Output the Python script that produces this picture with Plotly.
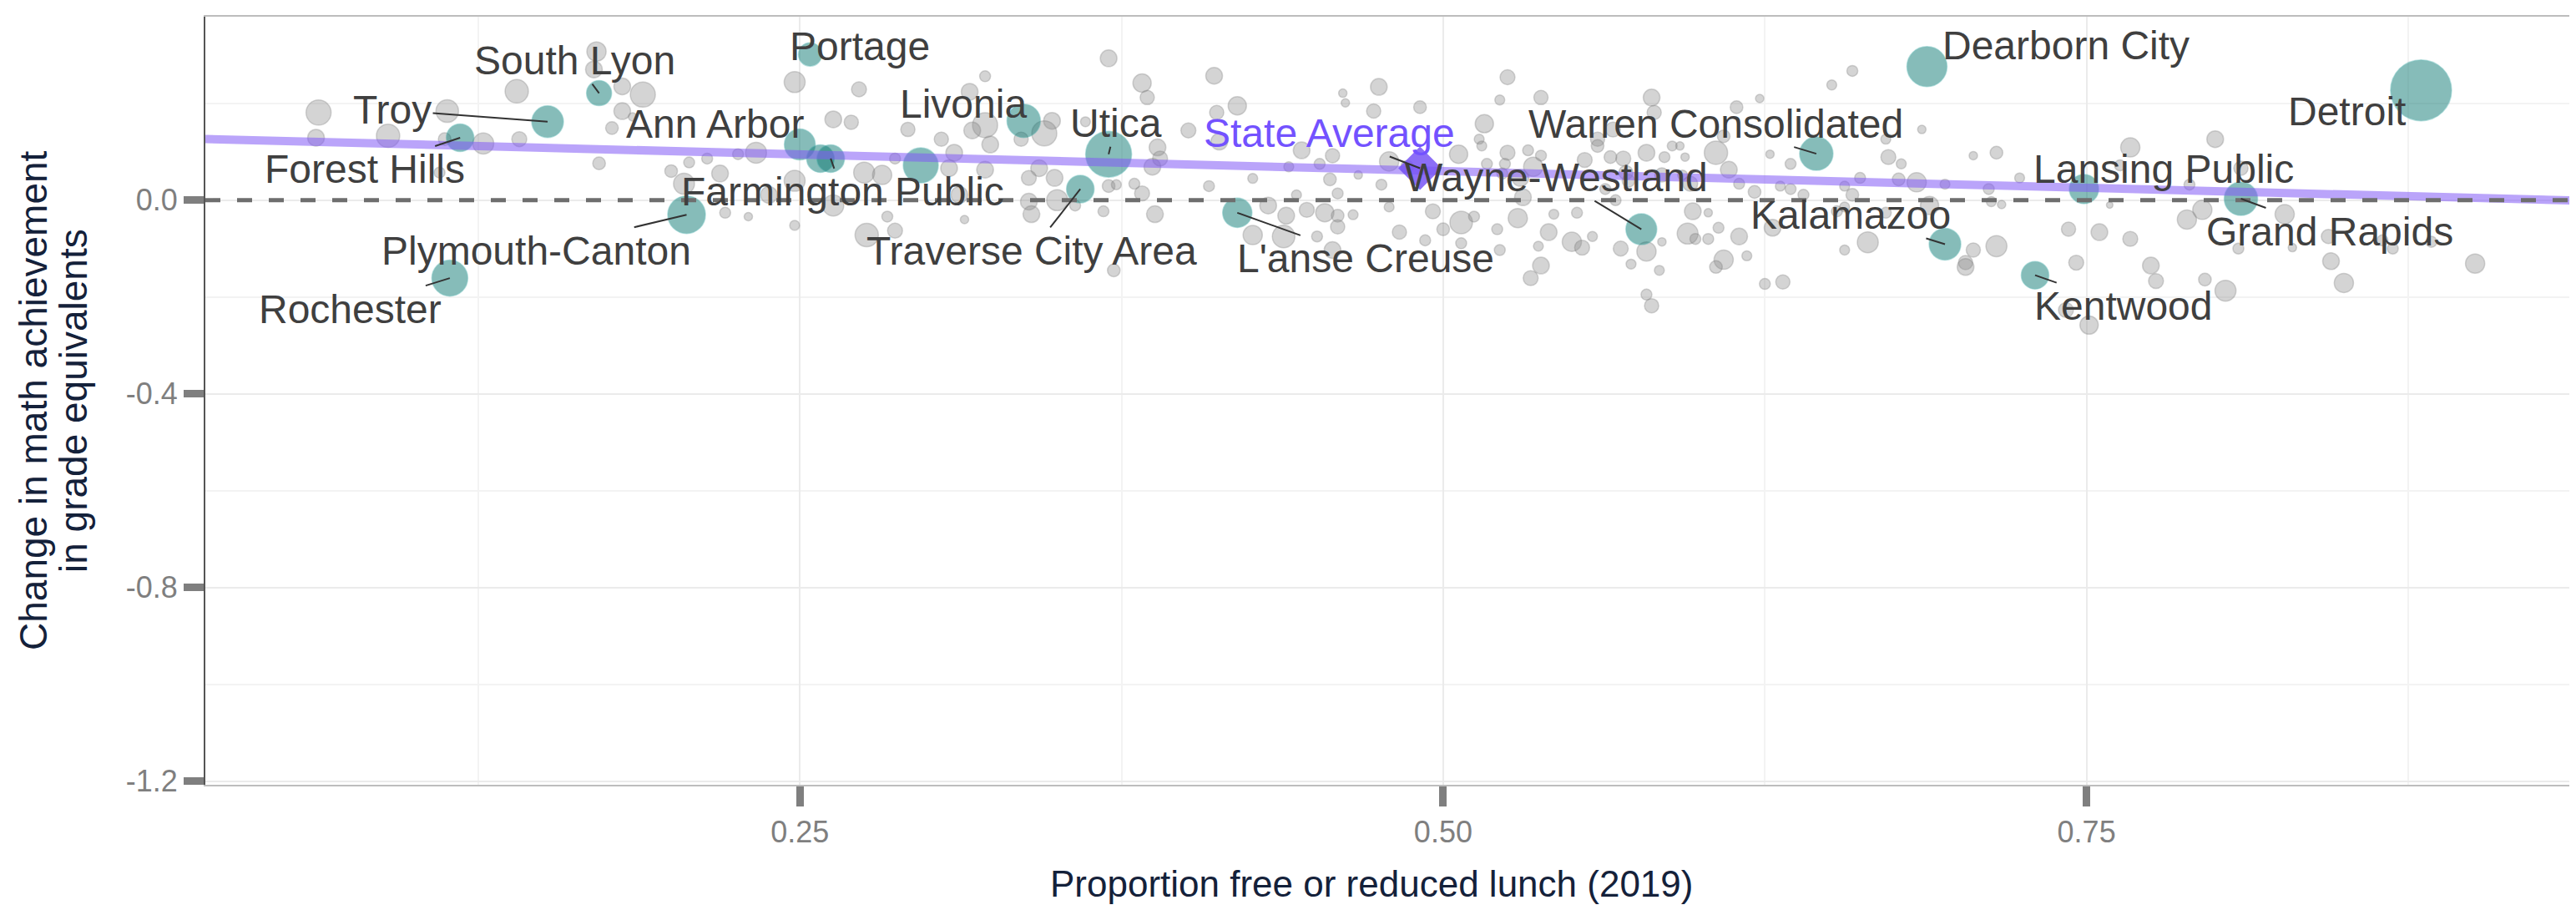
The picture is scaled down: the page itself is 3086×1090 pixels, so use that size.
import numpy as np
import plotly.graph_objects as go

# ---------------- data ----------------
# all other districts (grey): proportion FRL 2019, change in math GE, enrollment (thousands)
gray_frl = [
    0.063, 0.062, 0.090, 0.113, 0.112, 0.127, 0.141, 0.140, 0.110, 0.172, 0.171, 0.170,
    0.181, 0.189, 0.181, 0.185, 0.177, 0.248, 0.273, 0.263, 0.270, 0.233, 0.226, 0.214,
    0.207, 0.200, 0.205, 0.219, 0.221, 0.230, 0.238, 0.248, 0.248, 0.263, 0.275, 0.282,
    0.284, 0.276, 0.287, 0.292, 0.305, 0.310, 0.316, 0.322, 0.322, 0.317, 0.324, 0.314,
    0.312, 0.322, 0.308, 0.287,
    0.370, 0.383, 0.385, 0.361, 0.348, 0.345, 0.336, 0.343, 0.339, 0.349, 0.350, 0.339,
    0.340, 0.357, 0.368, 0.370, 0.373, 0.380, 0.383, 0.387, 0.389, 0.390, 0.388, 0.372,
    0.401, 0.411, 0.420, 0.412, 0.413, 0.409, 0.426, 0.426, 0.438, 0.432, 0.439, 0.443,
    0.447, 0.440, 0.445, 0.457, 0.452, 0.456, 0.459, 0.454, 0.459, 0.459, 0.451, 0.465,
    0.461, 0.462, 0.473, 0.475, 0.467, 0.476, 0.479, 0.479, 0.483, 0.457,
    0.525, 0.522, 0.491, 0.516, 0.514, 0.515, 0.506, 0.517, 0.525, 0.524, 0.533, 0.538,
    0.535, 0.530, 0.538, 0.523, 0.493, 0.496, 0.500, 0.507, 0.507, 0.512, 0.521, 0.522,
    0.529, 0.531, 0.538, 0.534, 0.541, 0.543, 0.537, 0.550, 0.554, 0.552, 0.558, 0.555,
    0.560, 0.560, 0.566, 0.565, 0.570, 0.571, 0.572, 0.563, 0.567, 0.569, 0.573, 0.579,
    0.584, 0.585, 0.579, 0.581, 0.581, 0.582, 0.579, 0.585, 0.586, 0.589, 0.594, 0.592,
    0.593, 0.596, 0.597, 0.595, 0.598, 0.603, 0.603, 0.606, 0.611, 0.609, 0.614, 0.623,
    0.627, 0.615, 0.621, 0.607, 0.615, 0.618, 0.609, 0.606, 0.625, 0.632, 0.631, 0.628,
    0.635, 0.635, 0.486,
    0.659, 0.651, 0.686, 0.672, 0.673, 0.678, 0.662, 0.656, 0.659, 0.677, 0.684, 0.695,
    0.640, 0.653, 0.672, 0.689, 0.665, 0.656, 0.706, 0.703, 0.703, 0.715, 0.706, 0.715,
    0.712, 0.713, 0.717, 0.724, 0.743, 0.755, 0.746, 0.767, 0.763, 0.759, 0.767, 0.775,
    0.777, 0.742, 0.751, 0.789, 0.790, 0.656,
    0.800, 0.810, 0.795, 0.827, 0.809, 0.830, 0.844, 0.845, 0.850, 0.865, 0.869, 0.884,
    0.901, 0.796, 0.804,
]
gray_change = [
    0.181, 0.129, 0.133, 0.184, 0.126, 0.117, 0.126, 0.225, 0.057, 0.076, 0.307, 0.270,
    0.235, 0.218, 0.184, 0.172, 0.149, 0.244, 0.229, 0.167, 0.161, 0.098, 0.095, 0.086,
    0.078, 0.060, 0.034, 0.055, -0.026, -0.034, 0.011, 0.040, -0.052, -0.011, 0.057, 0.052,
    -0.034, -0.072, -0.063, 0.146, 0.126, 0.098, 0.224, 0.256, 0.155, 0.144, 0.115, -0.040,
    0.011, 0.063, 0.066, 0.086,
    0.293, 0.242, 0.212, 0.162, 0.164, 0.138, 0.126, 0.066, 0.046, 0.046, 0.000, -0.003,
    -0.029, -0.011, -0.023, 0.029, 0.032, 0.034, 0.014, 0.069, 0.109, 0.086, -0.029, -0.145,
    0.144, 0.257, 0.195, 0.181, 0.121, 0.029, 0.045, -0.072, -0.075, -0.011, -0.032, 0.011,
    -0.020, 0.069, 0.103, 0.092, 0.075, 0.043, 0.014, -0.026, -0.032, -0.055, -0.075, -0.030,
    0.221, 0.201, 0.184, 0.234, 0.052, 0.032, -0.014, 0.080, -0.066, -0.103,
    0.254, 0.207, 0.192, 0.158, 0.126, 0.112, 0.095, 0.075, 0.098, 0.075, 0.103, 0.092,
    0.069, 0.046, 0.212, 0.055, -0.083, -0.023, -0.060, -0.046, -0.089, -0.034, -0.060, -0.103,
    -0.037, 0.006, -0.135, -0.161, -0.066, -0.029, -0.095, -0.086, -0.098, -0.026, -0.075, 0.083,
    0.126, 0.112, 0.146, 0.089, 0.086, 0.057, 0.040, 0.023, 0.000, -0.100, -0.132, -0.106,
    -0.145, -0.086, -0.195, -0.218, 0.212, 0.181, 0.098, 0.052, 0.089, 0.112, 0.089, 0.112,
    0.052, 0.034, -0.023, -0.069, -0.080, -0.080, -0.026, 0.098, 0.063, 0.132, 0.192, 0.210,
    0.095, 0.034, 0.017, -0.057, -0.075, -0.115, -0.123, -0.138, -0.173, -0.169, 0.029, -0.057,
    0.075, 0.023, 0.069,
    0.267, 0.238, 0.146, 0.126, 0.089, 0.075, 0.046, 0.029, 0.011, 0.043, 0.037, 0.033,
    0.011, -0.023, -0.026, -0.011, -0.087, -0.103, -0.103, -0.129, -0.138, -0.095, 0.092, 0.098,
    0.023, -0.003, -0.009, 0.046, -0.060, -0.066, -0.129, 0.109, 0.072, -0.010, -0.080, -0.135,
    -0.167, -0.227, -0.258, -0.040, 0.032, -0.014,
    0.126, 0.066, -0.020, -0.029, -0.100, -0.098, -0.075, -0.126, -0.171, -0.083, -0.100, -0.086,
    -0.131, -0.164, -0.187,
]
gray_enroll = [
    9.0, 4.0, 7.8, 7.3, 2.3, 6.3, 3.2, 7.8, 1.7, 2.3, 5.3, 4.0,
    4.0, 9.0, 4.0, 1.0, 2.3, 6.3, 3.2, 4.0, 2.9, 6.3, 1.7, 1.7,
    1.7, 2.3, 6.3, 4.0, 1.7, 1.0, 4.0, 6.3, 1.4, 6.3, 6.3, 5.3,
    1.7, 7.8, 3.2, 2.9, 2.9, 4.0, 4.0, 1.7, 9.0, 4.0, 4.0, 1.0,
    4.0, 4.0, 4.0, 1.7,
    4.0, 4.8, 2.9, 1.4, 4.0, 9.0, 2.9, 4.0, 3.2, 4.0, 6.3, 4.0,
    4.0, 1.7, 1.7, 2.3, 1.4, 1.7, 3.2, 4.0, 4.0, 3.2, 4.0, 2.3,
    3.2, 4.0, 4.8, 2.9, 4.0, 1.7, 1.4, 5.3, 7.3, 4.0, 4.0, 1.4,
    3.2, 1.4, 4.0, 2.9, 1.7, 2.3, 1.7, 4.8, 2.3, 2.9, 1.7, 1.4,
    1.0, 1.0, 2.9, 4.0, 1.0, 1.7, 1.4, 5.3, 2.9, 4.0,
    3.2, 1.4, 2.3, 4.8, 1.4, 1.4, 4.8, 1.7, 3.2, 1.7, 1.7, 1.7,
    5.3, 4.0, 2.9, 1.7, 1.7, 3.2, 2.3, 7.3, 1.7, 1.7, 1.7, 1.7,
    5.3, 4.0, 4.0, 3.2, 4.0, 1.4, 1.4, 5.3, 3.2, 1.7, 1.4, 3.2,
    2.9, 2.3, 3.2, 2.3, 3.2, 2.9, 2.3, 1.7, 1.7, 3.2, 1.4, 5.3,
    1.4, 1.0, 1.7, 2.9, 4.0, 2.9, 4.0, 2.9, 1.7, 1.4, 1.0, 1.0,
    1.4, 3.2, 4.0, 6.3, 1.7, 1.7, 1.0, 7.8, 4.0, 2.3, 2.3, 1.0,
    1.0, 1.7, 2.3, 1.7, 4.0, 1.4, 5.3, 2.3, 1.7, 2.9, 1.4, 4.0,
    1.7, 1.7, 2.3,
    1.7, 1.4, 1.0, 1.4, 3.2, 1.4, 1.7, 1.4, 2.3, 2.3, 5.3, 1.4,
    1.7, 1.7, 1.7, 4.8, 6.3, 1.4, 2.9, 2.9, 4.0, 6.3, 1.0, 2.3,
    1.7, 1.4, 1.0, 1.4, 2.9, 4.0, 3.2, 5.3, 1.7, 0.6, 3.2, 4.0,
    3.2, 3.2, 4.8, 5.3, 1.7, 1.4,
    4.0, 2.9, 5.3, 5.3, 1.7, 1.0, 2.9, 4.0, 5.3, 1.7, 1.7, 1.7,
    5.3, 2.3, 6.3,
]

# highlighted districts (teal)
teal_names = [
    "Rochester", "Forest Hills", "Troy", "South Lyon", "Plymouth-Canton", "Portage",
    "Ann Arbor", "", "Farmington Public", "", "Livonia", "Traverse City Area", "Utica",
    "L'anse Creuse", "Wayne-Westland", "Warren Consolidated", "Dearborn City",
    "Kalamazoo", "Kentwood", "Lansing Public", "Grand Rapids", "Detroit",
]
teal_frl = [
    0.114, 0.118, 0.152, 0.172, 0.206, 0.254,
    0.250, 0.258, 0.262, 0.297, 0.337, 0.359, 0.370,
    0.420, 0.577, 0.645, 0.688,
    0.695, 0.730, 0.749, 0.810, 0.880,
]
teal_change = [
    -0.161, 0.129, 0.162, 0.221, -0.030, 0.301,
    0.115, 0.086, 0.086, 0.072, 0.164, 0.023, 0.095,
    -0.026, -0.060, 0.096, 0.276,
    -0.091, -0.155, 0.023, 0.003, 0.227,
]
teal_enroll = [
    18.5, 10.9, 14.4, 9.0, 20.3, 7.8,
    13.7, 10.9, 10.9, 17.6, 16.0, 10.9, 30.3,
    12.3, 13.7, 16.0, 23.0,
    14.4, 10.9, 12.3, 16.0, 53.3,
]

state_avg_label = "State Average"
state_avg_frl = 0.491
state_avg_change = 0.066

# fitted line
trend_intercept = 0.129
trend_slope = -0.138

x_ticks = [0.25, 0.50, 0.75]
x_tick_labels = ["0.25", "0.50", "0.75"]
x_minor = [0.125, 0.375, 0.625, 0.875]
y_ticks = [-1.2, -0.8, -0.4, 0.0]
y_tick_labels = ["-1.2", "-0.8", "-0.4", "0.0"]
y_minor = [-1.0, -0.6, -0.2, 0.2]

x_title = "Proportion free or reduced lunch (2019)"
y_title_lines = ["Change in math achievement", "in grade equivalents"]

# ---------------- layout / styling ----------------
X_RANGE = [0.019, 0.9402]
Y_RANGE = [-1.2076, 0.379]
WIN_W, WIN_H = 3086, 1090
BODY = 8                       # default page margin around the plot div
PLOT_L, PLOT_T, PLOT_B = 246, 20, 940   # plot-area edges in window pixels
W, H = WIN_W - BODY, WIN_H - BODY
ML, MT = PLOT_L - BODY, PLOT_T - BODY
MR = 0
MB = H - MT - (PLOT_B - PLOT_T)
plot_w = W - ML - MR
plot_h = PLOT_B - PLOT_T
PX_PER_SQRT_K = 10.0

FONT = "Liberation Sans, Arial, sans-serif"
LABEL_SIZE = 48
LABEL_COLOR = "#3f3f3f"
TITLE_COLOR = "#14213a"
TICK_COLOR = "#7f7f7f"
GRAY_FILL = "rgba(138,138,138,0.52)"
TEAL_FILL = "rgba(11,119,114,0.7)"
PURPLE_LINE = "rgba(130,90,245,0.55)"
PURPLE_MARK = "rgba(120,85,245,0.85)"
PURPLE_TEXT = "#7352ff"

# label offsets in pixels from the point to label centre, and leader shown
LABEL_LAYOUT = {
    "Rochester": (-119, 37, True),
    "Forest Hills": (-114, 38, True),
    "Troy": (-186, -14, True),
    "South Lyon": (-29, -39, True),
    "Plymouth-Canton": (-180, 43, True),
    "Portage": (60, -10, False),
    "Ann Arbor": (-102, -25, True),
    "Farmington Public": (14, 40, True),
    "Livonia": (-72, -20, False),
    "Traverse City Area": (-58, 74, True),
    "Utica": (9, -37, True),
    "L'anse Creuse": (154, 55, True),
    "Wayne-Westland": (-102, -62, True),
    "Warren Consolidated": (-120, -36, True),
    "Dearborn City": (167, -25, False),
    "Kalamazoo": (-113, -35, True),
    "Kentwood": (106, 37, True),
    "Lansing Public": (95, -24, False),
    "Grand Rapids": (106, 39, True),
    "Detroit": (-89, 25, False),
}
STATE_LABEL_OFFSET = (-109, -42)

fig = go.Figure()

fig.add_trace(go.Scatter(
    x=gray_frl, y=gray_change, mode="markers",
    marker=dict(size=np.sqrt(np.array(gray_enroll)) * PX_PER_SQRT_K,
                sizemode="diameter", color=GRAY_FILL,
                line=dict(width=1.5, color="rgba(115,115,115,0.45)")),
    hoverinfo="skip", showlegend=False,
))

fig.add_trace(go.Scatter(
    x=teal_frl, y=teal_change, mode="markers", text=teal_names,
    marker=dict(size=np.sqrt(np.array(teal_enroll)) * PX_PER_SQRT_K,
                sizemode="diameter", color=TEAL_FILL,
                line=dict(width=1.5, color="rgba(60,170,165,0.5)")),
    showlegend=False,
))

tx = np.array(X_RANGE)
fig.add_trace(go.Scatter(
    x=tx, y=trend_intercept + trend_slope * tx, mode="lines",
    line=dict(color=PURPLE_LINE, width=10), hoverinfo="skip", showlegend=False,
))

fig.add_trace(go.Scatter(
    x=[state_avg_frl], y=[state_avg_change], mode="markers",
    marker=dict(symbol="diamond", size=40, color=PURPLE_MARK, line=dict(width=0)),
    showlegend=False,
))

fig.add_shape(type="line", xref="paper", x0=0, x1=1, yref="y", y0=0, y1=0,
              line=dict(color="#6e6e6e", width=5, dash="18px,20px"), layer="above")

annotations = []
for name, x, y in zip(teal_names, teal_frl, teal_change):
    if not name:
        continue
    dx, dy, leader = LABEL_LAYOUT[name]
    if leader:
        annotations.append(dict(
            x=x, y=y, xref="x", yref="y", text=name, showarrow=True,
            ax=dx, ay=dy, arrowhead=0, arrowwidth=2, arrowcolor="#333333",
            standoff=0, startstandoff=0,
            font=dict(family=FONT, size=LABEL_SIZE, color=LABEL_COLOR)))
    else:
        annotations.append(dict(
            x=x, y=y, xref="x", yref="y", text=name, showarrow=False,
            xshift=dx, yshift=-dy, xanchor="center", yanchor="middle",
            font=dict(family=FONT, size=LABEL_SIZE, color=LABEL_COLOR)))

annotations.append(dict(
    x=state_avg_frl, y=state_avg_change, xref="x", yref="y", text=state_avg_label,
    showarrow=True, ax=STATE_LABEL_OFFSET[0], ay=STATE_LABEL_OFFSET[1],
    arrowhead=0, arrowwidth=2, arrowcolor="#333333", standoff=0,
    font=dict(family=FONT, size=LABEL_SIZE, color=PURPLE_TEXT)))

# axis titles placed by window pixel centres
for line_text, px_center in zip(y_title_lines, [40, 88]):
    annotations.append(dict(
        x=(px_center - PLOT_L) / plot_w, y=0.5, xref="paper", yref="paper",
        text=line_text, showarrow=False, textangle=-90,
        xanchor="center", yanchor="middle",
        font=dict(family=FONT, size=46, color=TITLE_COLOR)))

annotations.append(dict(
    x=(1643 - PLOT_L) / plot_w, y=-(1058 - PLOT_B) / plot_h, xref="paper", yref="paper",
    text=x_title, showarrow=False, xanchor="center", yanchor="middle",
    font=dict(family=FONT, size=44, color=TITLE_COLOR)))

fig.update_layout(
    width=W, height=H, autosize=False,
    margin=dict(l=ML, r=MR, t=MT, b=MB, pad=0),
    paper_bgcolor="white", plot_bgcolor="white",
    showlegend=False, annotations=annotations,
    font=dict(family=FONT),
)

fig.update_xaxes(
    range=X_RANGE, tickmode="array", tickvals=x_ticks, ticktext=x_tick_labels,
    ticks="outside", ticklen=24, tickwidth=9, tickcolor=TICK_COLOR,
    tickfont=dict(family=FONT, size=36, color=TICK_COLOR),
    showgrid=True, gridcolor="#ebebeb", gridwidth=2,
    minor=dict(tickmode="array", tickvals=x_minor, showgrid=True,
               gridcolor="#f3f3f3", gridwidth=1.5, ticks=""),
    showline=True, linecolor="#bdbdbd", linewidth=2, mirror=True,
    zeroline=False, automargin=False,
)
fig.update_yaxes(
    range=Y_RANGE, tickmode="array", tickvals=y_ticks, ticktext=y_tick_labels,
    ticks="outside", ticklen=24, tickwidth=9, tickcolor=TICK_COLOR,
    tickfont=dict(family=FONT, size=36, color=TICK_COLOR),
    showgrid=True, gridcolor="#ebebeb", gridwidth=2,
    minor=dict(tickmode="array", tickvals=y_minor, showgrid=True,
               gridcolor="#f3f3f3", gridwidth=1.5, ticks=""),
    showline=True, linecolor="#555555", linewidth=2, mirror=False,
    zeroline=False, automargin=False,
)

fig.write_html("out.html")
